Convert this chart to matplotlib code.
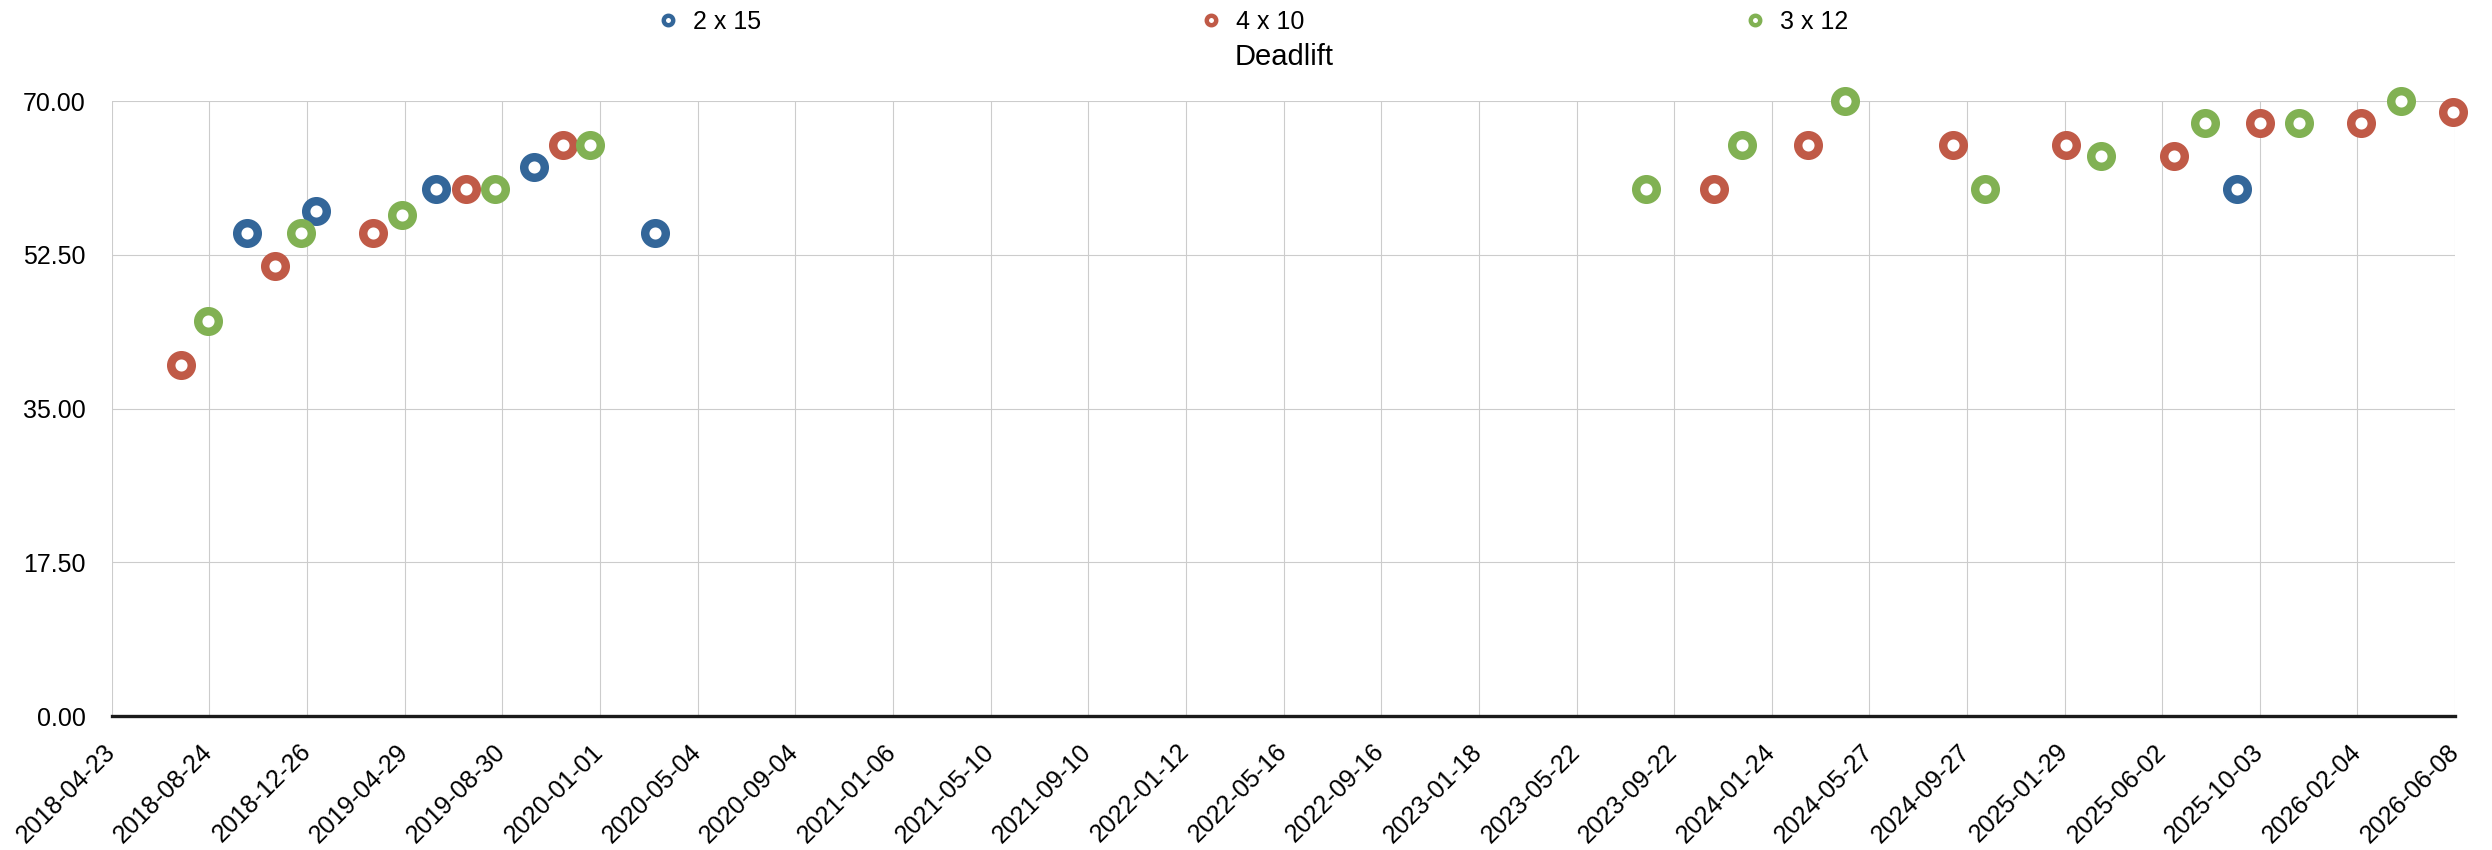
import datetime as dt
import matplotlib as mpl
mpl.use('Agg')
import matplotlib.pyplot as plt
import matplotlib.dates as mdates
from matplotlib.lines import Line2D

plt.rcParams['font.family'] = ['Liberation Sans', 'DejaVu Sans']

# data
series_names = ["2 x 15", "4 x 10", "3 x 12"]
series_colors = ["#336699", "#C05A47", "#81B153"]

dates_2x15 = ["2018-10-11", "2019-01-07", "2019-06-08", "2019-10-09", "2020-03-11",
              "2025-09-05"]
vals_2x15 = [55, 57.5, 60, 62.5, 55, 60]

dates_4x10 = ["2018-07-19", "2018-11-16", "2019-03-20", "2019-07-16", "2019-11-15",
              "2023-11-12", "2024-03-10", "2024-09-10", "2025-01-31", "2025-06-17",
              "2025-10-04", "2026-02-09", "2026-06-05"]
vals_4x10 = [40, 51.25, 55, 60, 65, 60, 65, 65, 65, 63.75, 67.5, 67.5, 68.75]

dates_3x12 = ["2018-08-23", "2018-12-19", "2019-04-26", "2019-08-21", "2019-12-19",
              "2023-08-18", "2023-12-17", "2024-04-26", "2024-10-20", "2025-03-16",
              "2025-07-26", "2025-11-22", "2026-03-31"]
vals_3x12 = [45, 55, 57, 60, 65, 60, 65, 70, 60, 63.75, 67.5, 67.5, 70]

tick_labels = ["2018-04-23", "2018-08-24", "2018-12-26", "2019-04-29", "2019-08-30",
               "2020-01-01", "2020-05-04", "2020-09-04", "2021-01-06", "2021-05-10",
               "2021-09-10", "2022-01-12", "2022-05-16", "2022-09-16", "2023-01-18",
               "2023-05-22", "2023-09-22", "2024-01-24", "2024-05-27", "2024-09-27",
               "2025-01-29", "2025-06-02", "2025-10-03", "2026-02-04", "2026-06-08"]
y_ticks = [0, 17.5, 35, 52.5, 70]


def to_dates(strs):
    return [dt.datetime.strptime(s, "%Y-%m-%d") for s in strs]


fig = plt.figure(figsize=(24.92, 8.5), dpi=100)
ax = fig.add_subplot(111)
fig.subplots_adjust(left=0.0449, right=0.9853, top=0.8808, bottom=0.1576)

all_dates = [dates_2x15, dates_4x10, dates_3x12]
all_vals = [vals_2x15, vals_4x10, vals_3x12]
for d, v, c in zip(all_dates, all_vals, series_colors):
    ax.plot(to_dates(d), v, linestyle='none', marker='o', markersize=14.8,
            markeredgewidth=6.1, markerfacecolor='white', markeredgecolor=c,
            clip_on=False, zorder=3)

ticks = to_dates(tick_labels)
ax.set_xlim(ticks[0], ticks[-1])
ax.set_xticks(ticks)
ax.set_xticklabels(tick_labels)
ax.set_ylim(0, 70)
ax.set_yticks(y_ticks)
ax.set_yticklabels(["%.2f" % t for t in y_ticks])

ax.grid(True, color='#CCCCCC', linewidth=0.8)
ax.set_axisbelow(True)
for s in ['top', 'right', 'left']:
    ax.spines[s].set_visible(False)
ax.spines['bottom'].set_color('#1a1a1a')
ax.spines['bottom'].set_linewidth(2.4)
ax.spines['bottom'].set_zorder(4)

ax.tick_params(axis='both', length=0, labelsize=18)
ax.tick_params(axis='y', pad=19)
ax.tick_params(axis='x', pad=23)
plt.setp(ax.get_xticklabels(), rotation=45, ha='right', va='center',
         rotation_mode='anchor')

ax.set_title("Deadlift", fontsize=21, pad=26)

handles = [Line2D([], [], linestyle='none', marker='o', markersize=6.8,
                  markeredgewidth=3.2, markerfacecolor='white', markeredgecolor=c)
           for c in series_colors]
fig.legend(handles, series_names, ncol=3, loc='center',
           bbox_to_anchor=(0.5034, 0.974), frameon=False, fontsize=18,
           handlelength=0.6, handletextpad=0.7, columnspacing=17.7)

fig.savefig('out.png', dpi=100)
